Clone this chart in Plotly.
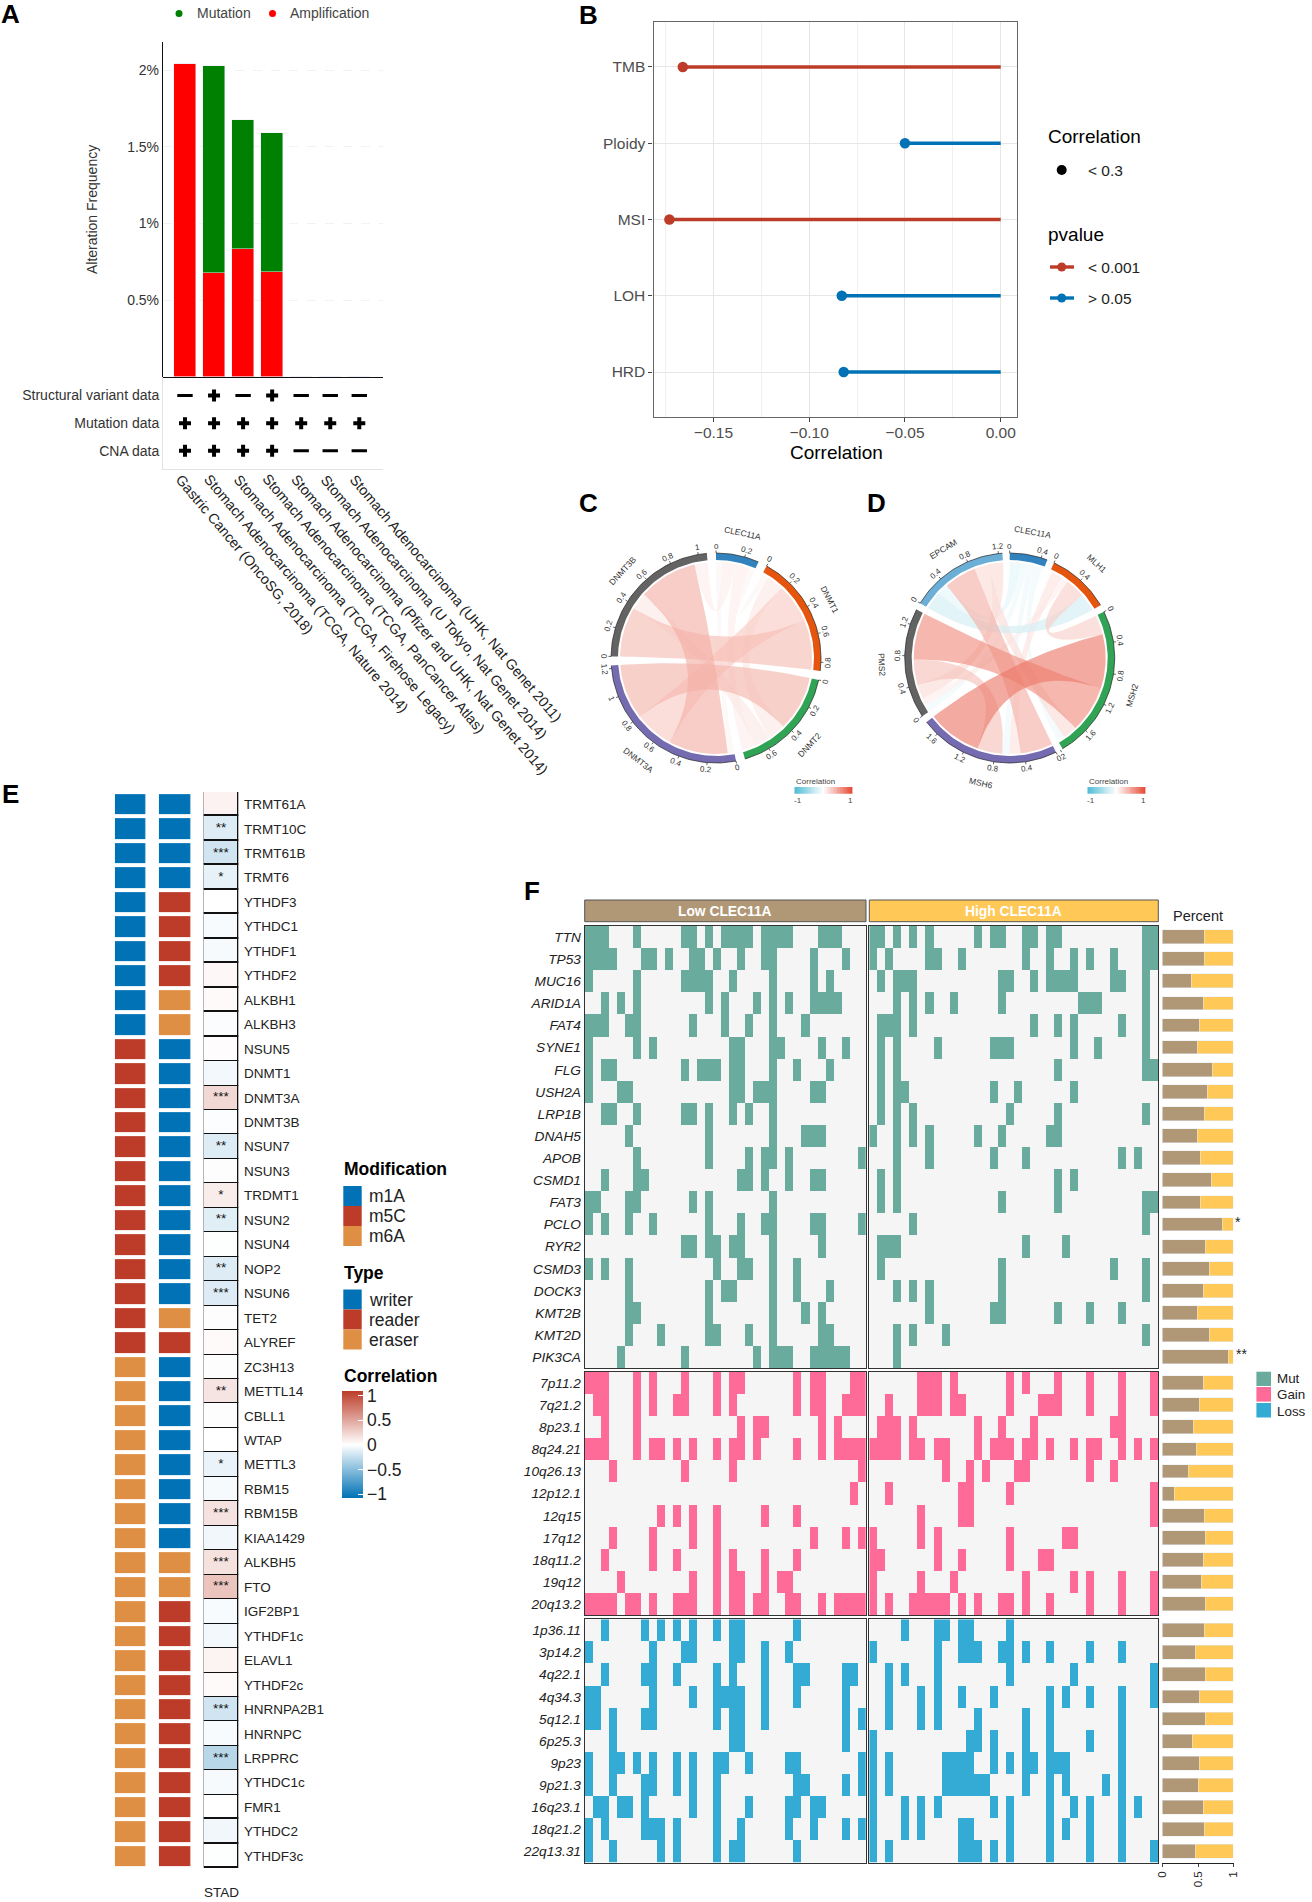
import math
import numpy as np
import plotly.graph_objects as go

W, H = 1312, 1902
FONT = "Liberation Sans"

# ---------- Panel A data
studies = ["Gastric Cancer (OncoSG, 2018)", "Stomach Adenocarcinoma (TCGA, Nature 2014)",
           "Stomach Adenocarcinoma (TCGA, Firehose Legacy)", "Stomach Adenocarcinoma (TCGA, PanCancer Atlas)",
           "Stomach Adenocarcinoma (Pfizer and UHK, Nat Genet 2014)", "Stomach Adenocarcinoma (U Tokyo, Nat Genet 2014)",
           "Stomach Adenocarcinoma (UHK, Nat Genet 2011)"]
amplification = [2.04, 0.676, 0.836, 0.68, 0, 0, 0]
mutation = [0, 1.354, 0.84, 0.91, 0, 0, 0]
table_rows = ["Structural variant data", "Mutation data", "CNA data"]
has_sv = [0, 1, 0, 1, 0, 0, 0]
has_mut = [1, 1, 1, 1, 1, 1, 1]
has_cna = [1, 1, 1, 1, 0, 0, 0]

# ---------- Panel B data
b_vars = ["TMB", "Ploidy", "MSI", "LOH", "HRD"]
b_corr = [-0.166, -0.05, -0.173, -0.083, -0.082]
b_sig = [1, 0, 1, 0, 0]

# ---------- Panel C data
c_names = ["CLEC11A", "DNMT1", "DNMT2", "DNMT3A", "DNMT3B"]
c_colors = ["#3182BD", "#E6550D", "#31A354", "#756BB1", "#636363"]
c_matrix = [[0, .05, .10, .05, .10],
            [.05, 0, .13, .30, .38],
            [.10, .13, 0, .42, .13],
            [.05, .30, .42, 0, .45],
            [.10, .38, .13, .45, 0]]
c_order = [[3, 4, 2, 1], [0, 2, 3, 4], [3, 1, 4, 0], [0, 4, 1, 2], [1, 2, 3, 0]]
c_ticks = [[0, .2], [0, .2, .4, .6, .8], [0, .2, .4, .6], [0, .2, .4, .6, .8, 1, 1.2], [0, .2, .4, .6, .8, 1]]

# ---------- Panel D data
d_names = ["CLEC11A", "MLH1", "MSH2", "MSH6", "PMS2", "EPCAM"]
d_colors = ["#3182BD", "#E6550D", "#31A354", "#756BB1", "#636363", "#6BAED6"]
d_matrix = [[0, -.03, -.10, -.10, -.10, -.15],
            [-.03, 0, .27, .15, .10, -.25],
            [-.10, .27, 0, .75, .65, .20],
            [-.10, .15, .75, 0, .35, .45],
            [-.10, .10, .65, .35, 0, .20],
            [-.15, -.25, .20, .45, .20, 0]]
d_order = [[5, 4, 3, 2, 1], [0, 3, 4, 2, 5], [1, 3, 4, 5, 0], [5, 1, 0, 4, 2], [0, 1, 5, 3, 2], [1, 0, 3, 2, 4]]
d_ticks = [[0, .4], [0, .4], [0, .4, .8, 1.2, 1.6, 2], [0, .4, .8, 1.2, 1.6], [0, .4, .8, 1.2], [0, .4, .8, 1.2]]

# ---------- Panel E data
genes = ["TRMT61A", "TRMT10C", "TRMT61B", "TRMT6", "YTHDF3", "YTHDC1", "YTHDF1", "YTHDF2", "ALKBH1", "ALKBH3",
         "NSUN5", "DNMT1", "DNMT3A", "DNMT3B", "NSUN7", "NSUN3", "TRDMT1", "NSUN2", "NSUN4", "NOP2",
         "NSUN6", "TET2", "ALYREF", "ZC3H13", "METTL14", "CBLL1", "WTAP", "METTL3", "RBM15", "RBM15B",
         "KIAA1429", "ALKBH5", "FTO", "IGF2BP1", "YTHDF1c", "ELAVL1", "YTHDF2c", "HNRNPA2B1", "HNRNPC", "LRPPRC",
         "YTHDC1c", "FMR1", "YTHDC2", "YTHDF3c"]
modification = [0] * 10 + [1] * 13 + [2] * 21
gene_type = [0, 0, 0, 0, 1, 1, 1, 1, 2, 2] + [0] * 11 + [2, 1] + [0] * 8 + [2, 2] + [1] * 11
e_corr = [.07, -.14, -.2, -.1, 0, -.03, -.04, .04, .03, -.02,
          .015, -.05, .22, -.015, -.14, .01, .1, -.13, -.01, -.14,
          -.15, .01, .03, .01, .15, .01, -.002, -.09, -.04, .16,
          -.06, .17, .33, -.03, -.05, .06, .03, -.2, -.03, -.3,
          -.04, 0, -.06, -.01]
e_stars = ["", "**", "***", "*", "", "", "", "", "", "",
           "", "", "***", "", "**", "", "*", "**", "", "**",
           "***", "", "", "", "**", "", "", "*", "", "***",
           "", "***", "***", "", "", "", "", "***", "", "***",
           "", "", "", ""]
cbar_ticks = [-1, -.5, 0, .5, 1]

# ---------- Panel F data
mut_genes = ["TTN", "TP53", "MUC16", "ARID1A", "FAT4", "SYNE1", "FLG", "USH2A", "LRP1B", "DNAH5",
             "APOB", "CSMD1", "FAT3", "PCLO", "RYR2", "CSMD3", "DOCK3", "KMT2B", "KMT2D", "PIK3CA"]
gain_regions = ["7p11.2", "7q21.2", "8p23.1", "8q24.21", "10q26.13", "12p12.1", "12q15", "17q12", "18q11.2", "19q12", "20q13.2"]
loss_regions = ["1p36.11", "3p14.2", "4q22.1", "4q34.3", "5q12.1", "6p25.3", "9p23", "9p21.3", "16q23.1", "18q21.2", "22q13.31"]
mut_low = [[0,1,2,6,12,13,15,17,18,19,20,22,23,24,25,29,30,31],
           [0,1,2,3,7,8,10,13,14,16,19,22,23,28,32],
           [0,6,12,13,14,15,18,23,28,30],
           [2,4,6,15,17,21,23,25,28,29,30,31],
           [0,1,2,5,6,13,17,20,23,27],
           [0,6,8,18,19,23,24,29,32],
           [0,2,3,12,14,15,16,18,19,23,26,30],
           [0,4,5,18,19,21,22,23,28,29],
           [2,3,6,12,13,15,18,20,23],
           [5,15,23,27,28,29],
           [6,15,20,22,23,25,34],
           [2,6,7,19,20,22,25,28,29],
           [0,1,5,6,13,15,23],
           [0,2,5,8,15,19,22,23,28,29,34],
           [12,13,15,16,18,19,23,29],
           [0,2,5,16,19,20,23,26],
           [5,15,17,18,23,26,30],
           [5,6,15,23,27,29],
           [5,9,15,16,20,23,29,30],
           [4,12,21,23,24,25,28,29,30,31,32]]
mut_high = [[0,1,3,5,7,13,15,16,19,20,22,23,34,35],
            [0,2,7,8,11,19,22,25,27,30,34,35],
            [1,3,4,5,16,17,20,22,23,24,25,30,31,34],
            [3,5,7,10,16,26,27,28,34],
            [1,2,3,5,20,23,25,31,34],
            [1,3,8,15,16,17,25,28,34],
            [1,3,23,34,35],
            [1,3,4,15,18,25],
            [1,3,5,17,23,34],
            [0,3,5,7,13,16,22,23],
            [3,7,15,19,31,33],
            [1,3,23,25],
            [1,3,16,23,34,35],
            [5,34],
            [1,2,3,19,24],
            [1,16,30,34],
            [3,5,7,16,34],
            [7,15,16,23,27,31],
            [3,5,9,34],
            [3]]
gain_low = [[0,1,2,6,8,12,16,18,19,26,28,29,33,34],
            [1,2,6,8,11,12,16,18,26,28,29,32,33,34],
            [2,6,19,21,22,29,31],
            [0,1,2,6,8,9,11,13,16,18,19,21,26,29,31,32,33,34],
            [3,12,18,34],
            [33],
            [9,11,13,16,22,26],
            [3,8,13,16,28,32,34],
            [2,8,11,16,18,22,26],
            [4,13,16,18,19,22,24,25],
            [0,1,2,3,5,6,8,11,12,13,16,18,19,21,22,25,26,29,31,32,33,34]]
gain_high = [[6,7,8,10,17,19,23,27,31,35],
             [2,6,7,8,10,11,17,21,22,23,27,31,35],
             [1,2,3,5,13,16,20,30,31],
             [0,1,2,3,5,6,8,9,13,15,16,17,19,20,22,25,27,28,31,33,35],
             [9,12,14,18,19,27,30],
             [2,11,12,17,35],
             [6,11,12,35],
             [0,6,8,17,24,25],
             [0,1,8,11,17,21,22],
             [0,6,10,19,25,27,31,35],
             [0,2,5,6,7,8,9,11,13,16,17,19,22,27,31,35]]
loss_low = [[2,7,9,11,13,16,18,19,26],
            [0,8,12,13,18,19,22,25],
            [2,7,8,11,16,18,22,26,27,32,33],
            [0,1,8,13,16,17,18,19,22,26,32],
            [0,1,3,7,8,16,18,19,22,32,34],
            [3,18,19,32],
            [0,3,4,6,8,11,13,16,17,20,25,26,34],
            [0,3,7,8,11,13,16,26,27,32,34],
            [1,2,4,5,7,13,16,20,25,26,28,29],
            [0,2,7,8,9,11,16,19,25,28,32,34],
            [0,3,9,11,16,18,19,26]]
loss_high = [[4,8,9,11,12,17],
             [0,8,11,12,13,16,17,19,22,27,31],
             [2,4,8,17,25,35],
             [2,6,8,11,15,22,24,27,31,35],
             [2,6,8,13,19,22,31],
             [0,12,13,15,19,22,27,31],
             [0,2,9,10,11,12,15,17,19,20,22,23,24,31],
             [0,2,9,10,11,12,13,14,19,22,24,29,31],
             [0,4,6,8,15,17,22,25,27,31,33],
             [0,4,6,11,12,17,22,24,27,31],
             [0,2,11,12,13,15,17,22,27,31,35]]
mut_pct = [.59, .59, .41, .57, .525, .49, .70, .625, .595, .49, .53, .69, .53, .845, .61, .665, .58, .49, .665, .92]
gain_pct = [.58, .52, .43, .48, .36, .17, .595, .61, .57, .55, .60]
loss_pct = [.595, .47, .61, .525, .61, .42, .52, .50, .57, .59, .47]
N_LOW, N_HIGH = 35, 36

BLUE, RED, ORANGE = "#0072B5", "#BC3C29", "#DF8F44"
TAN, YEL = "#B09776", "#FFC857"
MUTC, GAINC, LOSSC = "#69AC9E", "#FF6B98", "#33ABD5"

fig = go.Figure()
layout = {}
ann, shp = [], []
_n = [0]


def ax(x0, x1, y0, y1, xopt=None, yopt=None):
    _n[0] += 1
    i = _n[0]
    base = dict(showgrid=False, zeroline=False, showticklabels=False, ticks="", showline=False)
    xa = dict(base, domain=[x0 / W, x1 / W], anchor=f"y{i}")
    ya = dict(base, domain=[1 - y1 / H, 1 - y0 / H], anchor=f"x{i}")
    xa.update(xopt or {})
    ya.update(yopt or {})
    layout[f"xaxis{i}"] = xa
    layout[f"yaxis{i}"] = ya
    return f"x{i}", f"y{i}"


def txt(x, y, text, size=14, color="#222", anchor="left", bold=False, angle=0, italic=False, ya="middle"):
    t = f"<b>{text}</b>" if bold else text
    ann.append(dict(x=x / W, y=1 - y / H, xref="paper", yref="paper", text=t, showarrow=False, xanchor=anchor,
                    yanchor=ya, textangle=angle, borderpad=0,
                    font=dict(family=FONT, size=size, color=color, style="italic" if italic else "normal")))


def rect(x0, y0, x1, y1, fill, line=None, lw=0):
    shp.append(dict(type="rect", xref="paper", yref="paper", x0=x0 / W, x1=x1 / W, y0=1 - y0 / H, y1=1 - y1 / H,
                    fillcolor=fill, line=dict(color=line or fill, width=lw)))


def dot(cx, cy, d, fill):
    shp.append(dict(type="circle", xref="paper", yref="paper", x0=(cx - d / 2) / W, x1=(cx + d / 2) / W,
                    y0=1 - (cy - d / 2) / H, y1=1 - (cy + d / 2) / H, fillcolor=fill, line=dict(color=fill, width=0)))


def hline(x0, x1, y, color, w):
    shp.append(dict(type="line", xref="paper", yref="paper", x0=x0 / W, x1=x1 / W, y0=1 - y / H, y1=1 - y / H,
                    line=dict(color=color, width=w)))


# panel letters
for letter, lx, ly in [("A", 10, 14), ("B", 588, 15), ("C", 588, 503), ("D", 876, 503), ("E", 10, 794), ("F", 532, 891)]:
    txt(lx, ly, letter, size=26, color="#000", anchor="center", bold=True)

# ================= A
xa, ya = ax(163, 383, 42, 376.6,
            dict(type="category", categoryorder="array", categoryarray=studies, range=[-.757, 6.816],
                 showline=True, linecolor="#111", linewidth=1.3),
            dict(range=[0, 2.185], showline=True, linecolor="#111", linewidth=1.3, showticklabels=True,
                 tickvals=[.5, 1, 1.5, 2], ticktext=["0.5%", "1%", "1.5%", "2%"], showgrid=True, gridcolor="#F2F2F2",
                 tickfont=dict(family=FONT, size=14, color="#333"), griddash="dash"))
fig.add_trace(go.Bar(x=studies, y=amplification, marker_color="#FF0000", width=.757, xaxis=xa, yaxis=ya))
fig.add_trace(go.Bar(x=studies, y=mutation, marker_color="#008000", width=.757, xaxis=xa, yaxis=ya))
txt(92, 210, "Alteration Frequency", size=14, color="#333", anchor="center", angle=-90)
dot(179, 13.5, 7, "#008000")
txt(195.5, 13.5, "Mutation", size=14, color="#444")
dot(272.5, 13.5, 7, "#FF0000")
txt(289, 13.5, "Amplification", size=14, color="#444")

xt, yt = ax(163, 383, 376.6, 469,
            dict(type="category", categoryorder="array", categoryarray=studies, range=[-.757, 6.816],
                 showline=True, linecolor="#E3E3E3", linewidth=1),
            dict(type="category", categoryorder="array", categoryarray=table_rows, range=[2.66, -.685], showline=True,
                 linecolor="#E3E3E3", linewidth=1, showticklabels=True,
                 tickfont=dict(family=FONT, size=14, color="#333")))
for row, flags in zip(table_rows, [has_sv, has_mut, has_cna]):
    px = [s for s, f in zip(studies, flags) if f]
    mx = [s for s, f in zip(studies, flags) if not f]
    fig.add_trace(go.Scatter(x=px, y=[row] * len(px), mode="markers", xaxis=xt, yaxis=yt,
                             marker=dict(symbol="cross", size=10, color="#000")))
    fig.add_trace(go.Scatter(x=mx, y=[row] * len(mx), mode="markers", xaxis=xt, yaxis=yt,
                             marker=dict(symbol="line-ew", size=11, color="#000", line=dict(width=2.8, color="#000"))))
for s in studies:
    ann.append(dict(x=s, y=1 - 470 / H, xref=xt, yref="paper", text=s, showarrow=False, xanchor="left", yanchor="top",
                    textangle=49.7, xshift=-14, borderpad=0, font=dict(family=FONT, size=14.3, color="#222")))

# ================= B
xb, yb = ax(653.5, 1017, 21.7, 417,
            dict(range=[-.1813, .0085], showline=True, mirror=True, linecolor="#666", linewidth=1.3, showgrid=True,
                 gridcolor="#E6E6E6", tickvals=[-.15, -.10, -.05, 0], ticktext=["−0.15", "−0.10", "−0.05", "0.00"],
                 showticklabels=True, ticks="outside", ticklen=4, tickcolor="#444", ticklabelstandoff=-3,
                 tickfont=dict(family=FONT, size=15.5, color="#4D4D4D"),
                 minor=dict(tickvals=[-.175, -.125, -.075, -.025], showgrid=True, gridcolor="#F0F0F0")),
            dict(type="category", categoryorder="array", categoryarray=b_vars, range=[4.59, -.594], showline=True,
                 mirror=True, linecolor="#666", linewidth=1.3, showgrid=True, gridcolor="#E6E6E6", showticklabels=True,
                 ticks="outside", ticklen=4, tickcolor="#444", tickfont=dict(family=FONT, size=15.5, color="#4D4D4D")))
for v, c, s in zip(b_vars, b_corr, b_sig):
    col = RED if s else BLUE
    fig.add_trace(go.Scatter(x=[c, 0], y=[v, v], mode="lines", line=dict(color=col, width=3.4), xaxis=xb, yaxis=yb))
    fig.add_trace(go.Scatter(x=[c], y=[v], mode="markers", marker=dict(color=col, size=10.5), xaxis=xb, yaxis=yb))
txt(836, 453, "Correlation", size=19, color="#000", anchor="center")
txt(1047, 136, "Correlation", size=19, color="#000")
dot(1061.7, 170, 10, "#000")
txt(1086.5, 170, "&lt; 0.3", size=15.5, color="#222")
txt(1047, 234, "pvalue", size=19, color="#000")
hline(1050, 1074, 267, RED, 3.4)
dot(1061.7, 267, 9, RED)
txt(1086.5, 267, "&lt; 0.001", size=15.5, color="#222")
hline(1050, 1074, 298, BLUE, 3.4)
dot(1061.7, 298, 9, BLUE)
txt(1086.5, 298, "&gt; 0.05", size=15.5, color="#222")


# ================= C, D
def mix(c):
    hi = (230, 75, 53) if c >= 0 else (77, 187, 213)
    f = min(abs(c), 1)
    r, g, b = [round(255 + (h - 255) * f) for h in hi]
    return f"rgba({r},{g},{b},0.62)"


def chord(names, matrix, order, ticks, colors, gap, cx, cy):
    xc, yc = ax(cx - 135, cx + 135, cy - 135, cy + 135, dict(range=[-135, 135]), dict(range=[-135, 135]))
    R, Ri, Rl = 105, 98, 96
    n = len(names)
    sums = [sum(abs(v) for v in row) for row in matrix]
    k = (360 - n * gap) / sum(sums)
    pos = lambda a, r: (r * math.sin(math.radians(a)), r * math.cos(math.radians(a)))
    seg = {}
    start = 0.0
    spans = []
    for i in range(n):
        spans.append((start, start + sums[i] * k))
        cum = start
        for j in order[i]:
            w = abs(matrix[i][j]) * k
            seg[(i, j)] = (cum, cum + w)
            cum += w
        start += sums[i] * k + gap

    def arc(a0, a1, r):
        m = max(2, int(abs(a1 - a0) / 1.5) + 2)
        return [pos(a, r) for a in np.linspace(a0, a1, m)]

    def bez(p0, p2):
        return [(((1 - t) ** 2) * p0[0] + (t ** 2) * p2[0], ((1 - t) ** 2) * p0[1] + (t ** 2) * p2[1])
                for t in np.linspace(0, 1, 30)]

    links = sorted([(abs(matrix[i][j]), i, j) for i in range(n) for j in range(i + 1, n)])
    for _, i, j in links:
        a0, a1 = seg[(i, j)]
        b0, b1 = seg[(j, i)]
        pts = arc(a0, a1, Rl) + bez(pos(a1, Rl), pos(b0, Rl)) + arc(b0, b1, Rl) + bez(pos(b1, Rl), pos(a0, Rl))
        fig.add_trace(go.Scatter(x=[p[0] for p in pts], y=[p[1] for p in pts], mode="lines", fill="toself",
                                 fillcolor=mix(matrix[i][j]), line=dict(width=0), xaxis=xc, yaxis=yc))
    tx, ty = [], []
    for i in range(n):
        a0, a1 = spans[i]
        pts = arc(a0, a1, R) + arc(a1, a0, Ri)
        fig.add_trace(go.Scatter(x=[p[0] for p in pts] + [pts[0][0]], y=[p[1] for p in pts] + [pts[0][1]],
                                 mode="lines", fill="toself", fillcolor=colors[i], line=dict(width=0),
                                 xaxis=xc, yaxis=yc))
        outer = arc(a0, a1, R)
        fig.add_trace(go.Scatter(x=[p[0] for p in outer], y=[p[1] for p in outer], mode="lines",
                                 line=dict(color="#222", width=.7), xaxis=xc, yaxis=yc))
        for tv in ticks[i]:
            a = a0 + tv * k
            p, q = pos(a, R), pos(a, R + 2.5)
            tx += [p[0], q[0], None]
            ty += [p[1], q[1], None]
            lx, ly = pos(a, 112)
            ang = a if (a <= 90 or a >= 270) else a - 180
            ang = ang - 360 if ang > 180 else ang
            label = f"{tv:g}"
            ann.append(dict(x=lx, y=ly, xref=xc, yref=yc, text=label, showarrow=False, textangle=ang, borderpad=0,
                            font=dict(family=FONT, size=8, color="#333")))
        am = (a0 + a1) / 2
        lx, ly = pos(am, 128)
        ang = am if (am <= 90 or am >= 270) else am - 180
        ang = ang - 360 if ang > 180 else ang
        ann.append(dict(x=lx, y=ly, xref=xc, yref=yc, text=names[i], showarrow=False, textangle=ang, borderpad=0,
                        font=dict(family=FONT, size=8.5, color="#333")))
    fig.add_trace(go.Scatter(x=tx, y=ty, mode="lines", line=dict(color="#222", width=.7), xaxis=xc, yaxis=yc))


chord(c_names, c_matrix, c_order, c_ticks, c_colors, 5, 716, 658)
chord(d_names, d_matrix, d_order, d_ticks, d_colors, 4, 1009.7, 658)

grad_vals = [round(-1 + i * 0.05, 2) for i in range(41)]
for x0 in [794.5, 1087.5]:
    xg, yg = ax(x0, x0 + 58, 787, 793.7, dict(range=[-1, 1]), dict(range=[0, 1]))
    fig.add_trace(go.Heatmap(x=grad_vals, y=[0.5], z=[grad_vals], zmin=-1, zmax=1, showscale=False,
                             colorscale=[[0, "#4DBBD5"], [.5, "#FFFFFF"], [1, "#E64B35"]], xaxis=xg, yaxis=yg))
    txt(x0, 781, "Correlation", size=8, color="#444")
    txt(x0 + 3, 800, "-1", size=8, color="#444", anchor="center")
    txt(x0 + 55.5, 800, "1", size=8, color="#444", anchor="center")

# ================= E
rows_top, rows_bot = 792.1, 1868.3
xe, ye = ax(115.7 - 6.8, 191 + 6.8, rows_top, rows_bot,
            dict(range=[-.5, 1.5]),
            dict(type="category", categoryorder="array", categoryarray=genes, range=[43.5, -.5]))
fig.add_trace(go.Heatmap(x=[0, 1], y=genes, z=[[m, t] for m, t in zip(modification, gene_type)], xgap=13.6, ygap=4,
                         zmin=0, zmax=2, showscale=False,
                         colorscale=[[0, BLUE], [.33, BLUE], [.33, RED], [.67, RED], [.67, ORANGE], [1, ORANGE]],
                         xaxis=xe, yaxis=ye))
xc3, yc3 = ax(203.7, 238.3, rows_top, rows_bot,
              dict(range=[0, 1]),
              dict(type="category", categoryorder="array", categoryarray=genes, range=[43.5, -.5], showticklabels=True,
                   side="right", ticks="outside", ticklen=2, tickcolor="rgba(0,0,0,0)",
                   tickfont=dict(family=FONT, size=13.5, color="#222")))
fig.add_trace(go.Bar(x=[1] * len(genes), y=genes, orientation="h", width=1, xaxis=xc3, yaxis=yc3,
                     marker=dict(color=e_corr, cmin=-1.08, cmax=1.09,
                                 colorscale=[[0, BLUE], [.4977, "#FFFFFF"], [1, RED]],
                                 line=dict(color="#111", width=1.6),
                                 colorbar=dict(x=342.3 / W, y=1 - 1391 / H, xanchor="left", yanchor="top",
                                               lenmode="pixels", len=107, thicknessmode="pixels", thickness=21,
                                               xpad=0, ypad=0, outlinewidth=0, tickvals=cbar_ticks,
                                               ticktext=["−1", "−0.5", "0", "0.5", "1"], ticks="inside",
                                               tickcolor="#FFFFFF", ticklen=5,
                                               tickfont=dict(family=FONT, size=17.5, color="#222")))))
fig.add_trace(go.Scatter(x=[.5] * len(genes), y=genes, text=e_stars, mode="text", xaxis=xc3, yaxis=yc3,
                         textfont=dict(family=FONT, size=13.5, color="#111")))
for tv in cbar_ticks:
    yy = 1391 + (1.09 - tv) / (1.09 + 1.08) * 107
    hline(342.3, 347.3, yy, "#FFFFFF", 1)
txt(221, 1892, "STAD", size=13.5, color="#222", anchor="center")
txt(343.3, 1169, "Modification", size=17.5, color="#000", bold=True)
for lab, col, yy in [("m1A", BLUE, 1196), ("m5C", RED, 1216), ("m6A", ORANGE, 1236)]:
    rect(343.3, yy - 10, 361.7, yy + 10, col)
    txt(367.7, yy, lab, size=17.5)
txt(343.3, 1273, "Type", size=17.5, color="#000", bold=True)
for lab, col, yy in [("writer", BLUE, 1299.5), ("reader", RED, 1319.5), ("eraser", ORANGE, 1339.5)]:
    rect(343.3, yy - 10, 361.7, yy + 10, col)
    txt(367.7, yy, lab, size=17.5)
txt(343.3, 1375.7, "Correlation", size=17.5, color="#000", bold=True)


# ================= F
def binary(rows, ncol):
    return [[1 if c in r else 0 for c in range(ncol)] for r in rows]


groups = [(mut_genes, mut_low, mut_high, mut_pct, MUTC, 926, 1368.3),
          (gain_regions, gain_low, gain_high, gain_pct, GAINC, 1372, 1615.3),
          (loss_regions, loss_low, loss_high, loss_pct, LOSSC, 1619.3, 1862.7)]
border = dict(showline=True, mirror=True, linecolor="#333", linewidth=1)
for g_i, (labels, low, high, pct, color, y0, y1) in enumerate(groups):
    yopt = dict(type="category", categoryorder="array", categoryarray=labels, range=[len(labels) - .5, -.5], **border)
    xl, yl = ax(584.7, 866, y0, y1, dict(range=[-.5, N_LOW - .5], **border),
                dict(yopt, showticklabels=True, tickfont=dict(family=FONT, size=13.7, color="#222", style="italic")))
    fig.add_trace(go.Heatmap(x=list(range(N_LOW)), y=labels, z=binary(low, N_LOW), zmin=0, zmax=1, showscale=False,
                             colorscale=[[0, "#F5F5F5"], [1, color]], xaxis=xl, yaxis=yl))
    xh, yh = ax(869.3, 1158.3, y0, y1, dict(range=[-.5, N_HIGH - .5], **border), yopt)
    fig.add_trace(go.Heatmap(x=list(range(N_HIGH)), y=labels, z=binary(high, N_HIGH), zmin=0, zmax=1, showscale=False,
                             colorscale=[[0, "#F5F5F5"], [1, color]], xaxis=xh, yaxis=yh))
    xopt = dict(range=[0, 1])
    if g_i == 2:
        xopt.update(showline=True, linecolor="#222", linewidth=1, showticklabels=True, tickvals=[0, .5, 1],
                    ticktext=["0", "0.5", "1"], ticks="outside", ticklen=3, tickangle=-90,
                    tickfont=dict(family=FONT, size=11.5, color="#222"))
    xp, yp = ax(1162.4, 1233.6, y0, y1, xopt,
                dict(type="category", categoryorder="array", categoryarray=labels, range=[len(labels) - .5, -.5]))
    fig.add_trace(go.Bar(x=pct, y=labels, orientation="h", width=.62, marker_color=TAN, xaxis=xp, yaxis=yp))
    fig.add_trace(go.Bar(x=[1 - v for v in pct], y=labels, orientation="h", width=.62, marker_color=YEL,
                         xaxis=xp, yaxis=yp))

rect(584.7, 900, 866, 921.7, TAN, "#555", 1)
rect(869.3, 900, 1158.3, 921.7, YEL, "#555", 1)
txt(725.3, 911, "Low CLEC11A", size=13.8, color="#FFF", anchor="center", bold=True)
txt(1013.8, 911, "High CLEC11A", size=13.8, color="#FFF", anchor="center", bold=True)
txt(1198, 916, "Percent", size=14.5, anchor="center")
txt(1237.7, 1222, "*", size=14, anchor="center")
txt(1241, 1354, "**", size=14, anchor="center")
for lab, col, y0, y1, yy in [("Mut", MUTC, 1371.7, 1386, 1378.8), ("Gain", GAINC, 1387, 1401.6, 1394.4),
                             ("Loss", LOSSC, 1403, 1417.5, 1411)]:
    rect(1256.4, y0, 1271, y1, col)
    txt(1276, yy, lab, size=13.4)

layout.update(width=W, height=H, margin=dict(l=0, r=0, t=0, b=0, autoexpand=False), paper_bgcolor="white",
              plot_bgcolor="rgba(0,0,0,0)", showlegend=False, barmode="stack", bargap=0, hovermode=False,
              annotations=ann, shapes=shp, font=dict(family=FONT))
fig.update_layout(**layout)
fig.write_html("out.html", config={"displayModeBar": False},
               post_script="document.body.style.margin='0';document.body.style.overflow='hidden';")
